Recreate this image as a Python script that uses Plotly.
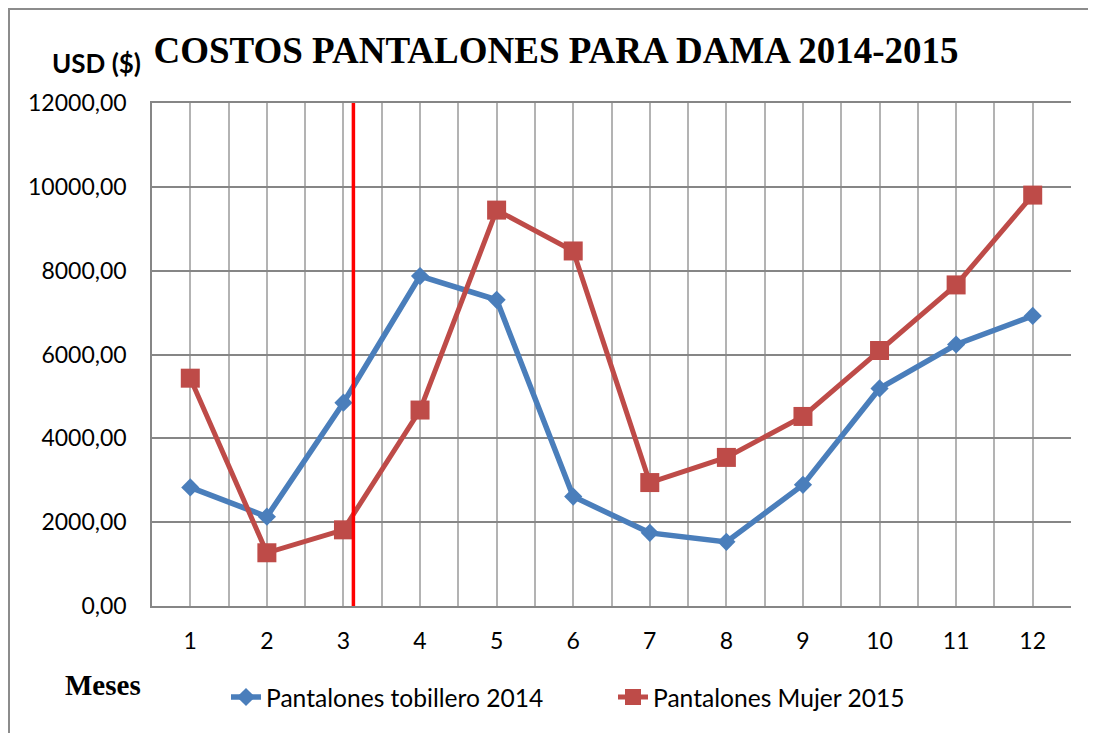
import plotly.graph_objects as go

months = [1, 2, 3, 4, 5, 6, 7, 8, 9, 10, 11, 12]
tobillero_2014 = [2830, 2130, 4850, 7870, 7305, 2610, 1745, 1530, 2890, 5190, 6238, 6920]
mujer_2015 = [5435, 1270, 1817, 4675, 9445, 8470, 2945, 3545, 4522, 6095, 7660, 9803]
divider_month = 3.13
y_ticks = [0, 2000, 4000, 6000, 8000, 10000, 12000]

name_2014 = "Pantalones tobillero 2014"
name_2015 = "Pantalones Mujer 2015"
title_text = "COSTOS PANTALONES PARA DAMA 2014-2015"

BLUE = "#4A7EBB"
RED = "#BE4B48"
SANS = "Lato, Open Sans, sans-serif"
SERIF = "Liberation Serif, Times New Roman, serif"

OFF = 8  # page body margin
W, H = 1096 - OFF, 733 - OFF
ML, MR, MT, MB = 152 - OFF, 25, 103 - OFF, 127
PW = W - ML - MR
PH = H - MT - MB


def px_x(px):
    return (px - OFF - ML) / PW


def px_y(py):
    return (H - MB - (py - OFF)) / PH


fig = go.Figure()
fig.add_trace(go.Scatter(
    x=months, y=tobillero_2014, name=name_2014, mode="lines+markers",
    line=dict(color=BLUE, width=5.5),
    marker=dict(symbol="diamond", size=14, color=BLUE),
))
fig.add_trace(go.Scatter(
    x=months, y=mujer_2015, name=name_2015, mode="lines+markers",
    line=dict(color=RED, width=5),
    marker=dict(symbol="square", size=19, color=RED),
))

fig.add_shape(type="line", xref="x", yref="paper", x0=divider_month, x1=divider_month,
              y0=0, y1=1, line=dict(color="#FF0000", width=3.5), layer="above")

# outer chart frame
fig.add_shape(type="rect", xref="paper", yref="paper",
              x0=px_x(9), x1=px_x(1120), y0=px_y(9), y1=px_y(760),
              line=dict(color="#8C8C8C", width=2), layer="below")

fig.update_layout(
    width=W, height=H,
    margin=dict(l=ML, r=MR, t=MT, b=MB),
    paper_bgcolor="white", plot_bgcolor="white",
    separators=",.",
    title=dict(text="<b>" + title_text + "</b>", xref="container", yref="container",
               x=(556 - OFF) / W, y=1 - (50 - OFF) / H, xanchor="center", yanchor="middle",
               font=dict(family=SERIF, size=37, color="black")),
    showlegend=True,
    legend=dict(orientation="h", x=px_x(226), y=px_y(697), xanchor="left", yanchor="middle",
                font=dict(family=SANS, size=24.6, color="black"),
                entrywidth=342, entrywidthmode="pixels", bgcolor="rgba(0,0,0,0)"),
    annotations=[
        dict(text="<b>USD ($)</b>", xref="paper", yref="paper", x=px_x(96), y=px_y(63),
             xanchor="center", yanchor="middle", showarrow=False,
             font=dict(family=SANS, size=26, color="black")),
        dict(text="<b>Meses</b>", xref="paper", yref="paper", x=px_x(103), y=px_y(685),
             xanchor="center", yanchor="middle", showarrow=False,
             font=dict(family=SERIF, size=29, color="black")),
    ],
)

fig.update_xaxes(
    range=[0.5, 12.5], tickvals=months, ticktext=[str(m) for m in months],
    showgrid=True, gridcolor="#B3B3B3", gridwidth=1.5,
    minor=dict(tick0=0.5, dtick=1, showgrid=True, gridcolor="#B3B3B3", gridwidth=1.5),
    showline=True, linecolor="#868686", linewidth=1.5, mirror=True,
    ticks="", ticklabelstandoff=14, zeroline=False,
    tickfont=dict(family=SANS, size=23, color="black"),
)
fig.update_yaxes(
    range=[0, 12000], tickvals=y_ticks, tickformat=".2f",
    showgrid=True, gridcolor="#868686", gridwidth=1.5,
    showline=True, linecolor="#868686", linewidth=1.5,
    ticks="", ticklabelstandoff=19, zeroline=False,
    tickfont=dict(family=SANS, size=23, color="black"),
)

fig.write_html("out.html")
